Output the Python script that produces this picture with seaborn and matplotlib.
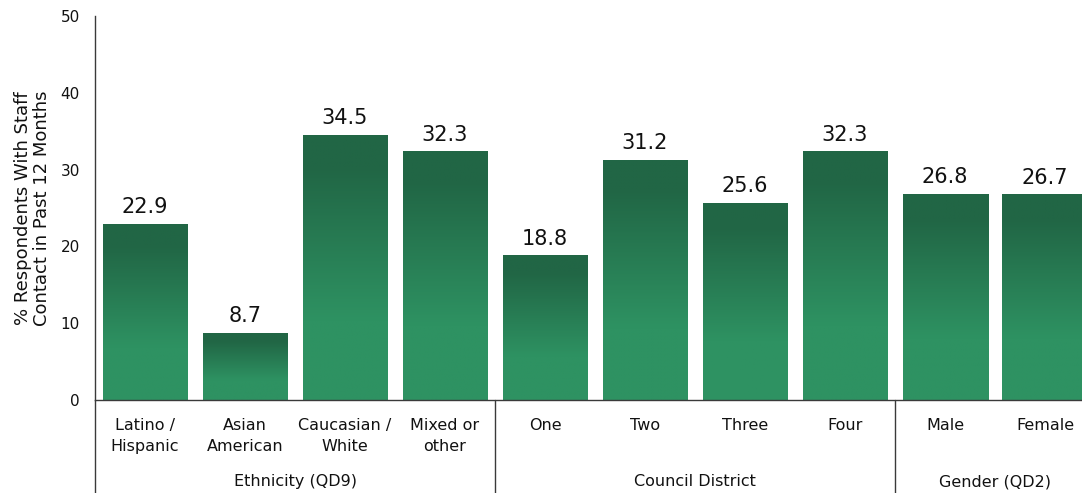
import numpy as np
import pandas as pd
import matplotlib
matplotlib.use("Agg")
import matplotlib.pyplot as plt
import matplotlib.transforms as mtransforms
from matplotlib.colors import LinearSegmentedColormap
import seaborn as sns

categories = ["Latino /\nHispanic", "Asian\nAmerican", "Caucasian /\nWhite", "Mixed or\nother",
              "One", "Two", "Three", "Four", "Male", "Female"]
values = [22.9, 8.7, 34.5, 32.3, 18.8, 31.2, 25.6, 32.3, 26.8, 26.7]
group_names = ["Ethnicity (QD9)", "Council District", "Gender (QD2)"]
group_sizes = [4, 4, 2]
y_ticks = [0, 10, 20, 30, 40, 50]
y_label = "% Respondents With Staff\nContact in Past 12 Months"

TOP = "#216645"
BOTTOM = "#2e9262"
TEXT = "#111111"
LINE = "#3a3a3a"

sns.set_theme(style="white")
plt.rcParams["font.family"] = ["DejaVu Sans"]

df = pd.DataFrame({"cat": categories, "val": values})

fig = plt.figure(figsize=(10.82, 4.93), dpi=100)
ax = fig.add_axes([95 / 1082, 93 / 493, 1000 / 1082, 384 / 493])

sns.barplot(data=df, x="cat", y="val", color=BOTTOM, width=0.85, ax=ax, saturation=1)

cmap = LinearSegmentedColormap.from_list(
    "g", [(0.0, TOP), (0.12, TOP), (0.7, BOTTOM), (1.0, BOTTOM)], N=256)
grad = np.linspace(0, 1, 200).reshape(-1, 1)

for p in ax.patches:
    x0, y0 = p.get_x(), p.get_y()
    w, h = p.get_width(), p.get_height()
    p.set_facecolor("none")
    p.set_edgecolor("none")
    ax.imshow(grad, extent=[x0, x0 + w, y0, y0 + h], origin="upper",
              cmap=cmap, aspect="auto", zorder=2, interpolation="bilinear")
    ax.annotate(f"{h:.1f}", (x0 + w / 2, y0 + h), xytext=(0, 5),
                textcoords="offset points", ha="center", va="bottom",
                fontsize=15, color=TEXT)

ax.set_xlim(-0.5, len(categories) - 0.5)
ax.set_ylim(0, 50)
ax.set_yticks(y_ticks)
ax.set_yticklabels([str(t) for t in y_ticks], fontsize=11, color=TEXT)
ax.set_xticks(range(len(categories)))
ax.set_xticklabels(categories, fontsize=11.5, color=TEXT, linespacing=1.5)
ax.tick_params(axis="both", length=0)
ax.tick_params(axis="x", pad=13)
ax.tick_params(axis="y", pad=11)
ax.set_xlabel("")
ax.set_ylabel(y_label, fontsize=13, color=TEXT, labelpad=7, linespacing=1.05)

for s in ["top", "right"]:
    ax.spines[s].set_visible(False)
for s in ["left", "bottom"]:
    ax.spines[s].set_color(LINE)
    ax.spines[s].set_linewidth(1.0)

trans = mtransforms.blended_transform_factory(ax.transData, ax.transAxes)
start = -0.5
bounds = [start]
for name, n in zip(group_names, group_sizes):
    center = start + n / 2
    ax.text(center, -0.213, name, transform=trans, ha="center", va="center",
            fontsize=11.5, color=TEXT)
    start += n
    bounds.append(start)
for b in bounds[:-1]:
    ax.plot([b, b], [0, -0.26], transform=trans, color=LINE, lw=1.0, clip_on=False)

fig.savefig("out.png", dpi=100)
